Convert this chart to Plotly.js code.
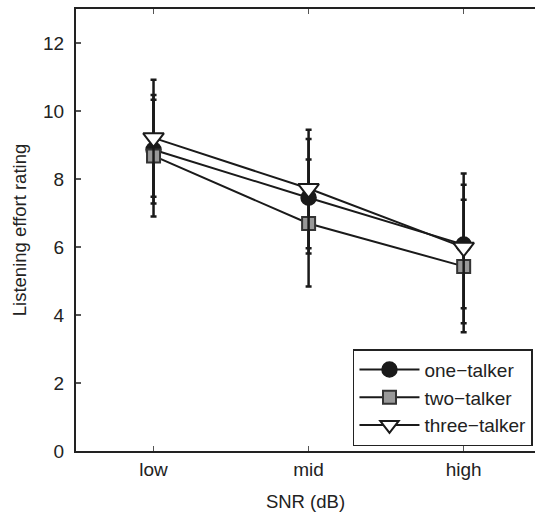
<!DOCTYPE html>
<html>
<head>
<meta charset="utf-8">
<script src="https://cdn.plot.ly/plotly-3.0.1.min.js"></script>
<style>html,body{margin:0;padding:0;background:#fff;}#chart{width:535px;height:513px;}</style>
</head>
<body>
<div id="chart"></div>
<script>
const categories = ["low", "mid", "high"];
const seriesNames = ["one\u2212talker", "two\u2212talker", "three\u2212talker"];
const oneTalker = [8.86, 7.45, 6.07];
const oneErrPlus = [1.61, 1.73, 1.76];
const oneErrMinus = [1.58, 1.64, 1.87];
const twoTalker = [8.68, 6.69, 5.43];
const twoErrPlus = [1.65, 1.88, 1.96];
const twoErrMinus = [1.78, 1.85, 1.94];
const threeTalker = [9.21, 7.72, 5.99];
const threeErrPlus = [1.71, 1.73, 2.17];
const threeErrMinus = [1.73, 1.76, 2.23];
const yTickVals = [0, 2, 4, 6, 8, 10, 12];

const xPos = categories.map((c, i) => i + 1);
const dark = "#1a1a1a";

function mk(name, y, ep, em, marker) {
  return {
    type: "scatter", mode: "lines+markers", name: name,
    x: xPos, y: y,
    line: {color: dark, width: 2},
    marker: marker,
    error_y: {type: "data", symmetric: false, array: ep, arrayminus: em,
              color: dark, thickness: 2.5, width: 3}
  };
}

const data = [
  mk(seriesNames[0], oneTalker, oneErrPlus, oneErrMinus,
     {symbol: "circle", size: 15, color: dark, line: {color: dark, width: 1.5}}),
  mk(seriesNames[1], twoTalker, twoErrPlus, twoErrMinus,
     {symbol: "square", size: 13, color: "#999999", line: {color: "#333333", width: 2}}),
  mk(seriesNames[2], threeTalker, threeErrPlus, threeErrMinus,
     {symbol: "triangle-down", size: 18, color: "#ffffff", line: {color: dark, width: 2}})
];

const layout = {
  width: 535, height: 513,
  margin: {l: 76, r: 0, t: 9, b: 62},
  paper_bgcolor: "#fff", plot_bgcolor: "#fff",
  font: {family: "Liberation Sans, Arial, sans-serif", color: "#222", size: 19},
  showlegend: true,
  xaxis: {
    range: [0.5, 3.46], tickvals: xPos, ticktext: categories,
    showgrid: false, zeroline: false,
    showline: true, linecolor: "#222", linewidth: 2, mirror: "ticks",
    ticks: "inside", ticklen: 5, tickcolor: "#555", tickwidth: 1.5,
    tickfont: {size: 19}, ticklabelstandoff: 0,
    title: {text: "SNR (dB)", font: {size: 18.5}, standoff: 16}
  },
  yaxis: {
    range: [0, 13], tickvals: yTickVals,
    showgrid: false, zeroline: false,
    showline: true, linecolor: "#222", linewidth: 2, mirror: false,
    ticks: "inside", ticklen: 5, tickcolor: "#555", tickwidth: 1.5,
    tickfont: {size: 19}, ticklabelstandoff: 6,
    title: {text: "Listening effort rating", font: {size: 18.5}, standoff: 12}
  },
  legend: {
    x: 0.9956, xanchor: "right", y: 0.011, yanchor: "bottom",
    bordercolor: "#222", borderwidth: 1.5, bgcolor: "#fff",
    font: {size: 19}, tracegroupgap: 0, itemwidth: 60
  }
};

Plotly.newPlot("chart", data, layout, {staticPlot: true, displayModeBar: false});
</script>
</body>
</html>
